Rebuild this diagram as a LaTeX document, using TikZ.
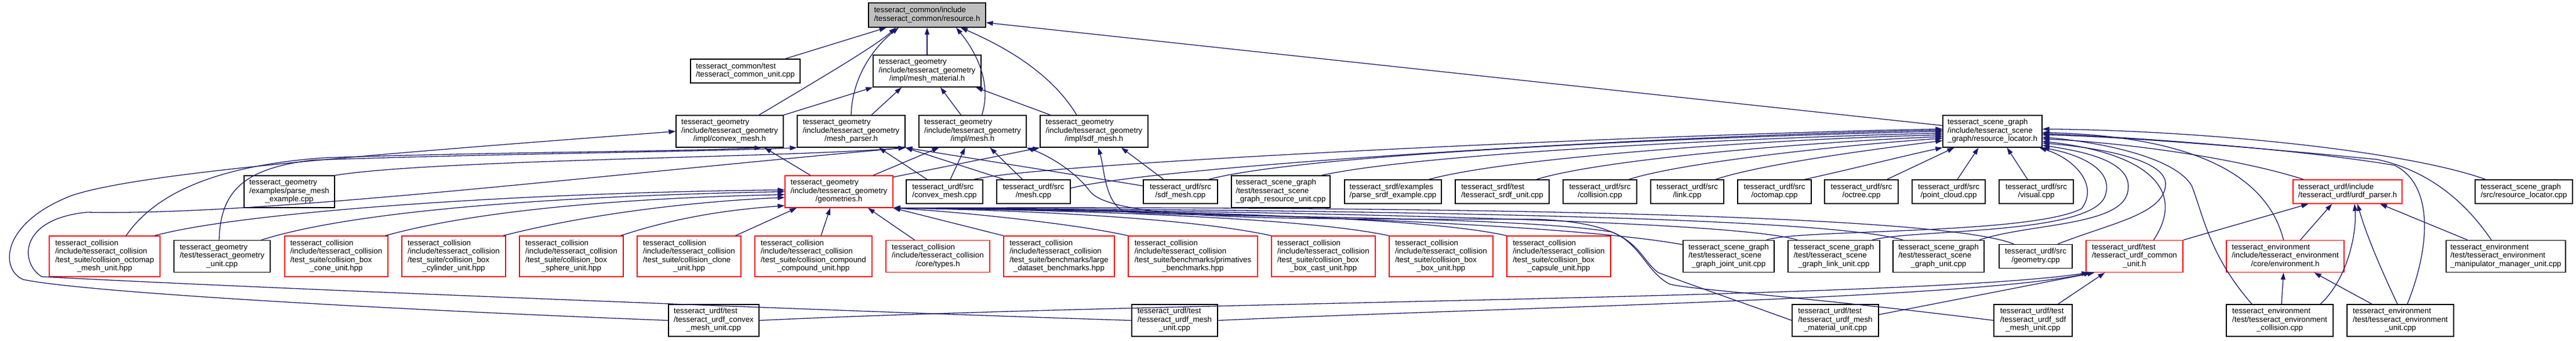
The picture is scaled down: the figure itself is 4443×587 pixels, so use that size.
\documentclass[tikz,border=0pt]{standalone}
\usepackage{fontspec}
\setmainfont{Liberation Sans}
\usepackage[HTML]{xcolor}
\usepackage{tikz}
\usetikzlibrary{arrows.meta}
\definecolor{edgeblue}{HTML}{191970}
\definecolor{rootgray}{HTML}{BFBFBF}
% left lines, last line centred
\newcommand{\flab}[2]{\begin{tabular}{@{}l@{}}#1\\\multicolumn{1}{@{}c@{}}{#2}\end{tabular}}
\tikzset{
  file/.style 2 args={draw=black, fill=white, line width=1.3pt, minimum width=#1pt, minimum height=#2pt},
  trunc/.style 2 args={file={#1}{#2}, draw=red},
  root/.style 2 args={file={#1}{#2}, fill=rootgray},
  dep/.style={draw=edgeblue, line width=1.3pt, -{Triangle[length=12pt, width=8pt]}}
}

\begin{document}
\begin{tikzpicture}[x=1pt, y=-1pt,
  every node/.style={font=\fontsize{13.33}{14.5}\selectfont, inner sep=0pt}]
\fill[white] (0,0) rectangle (4443,587);
\useasboundingbox (0,0) rectangle (4443,587);

% Define the nodes
\node[root={202}{42}] (R) at (1599,26) {\flab{tesseract\_common/include}{/tesseract\_common/resource.h}};

\node[file={189}{41}] (A) at (1285.5,122.5) {\flab{tesseract\_common/test}{/tesseract\_common\_unit.cpp}};
\node[file={186}{55}] (MM) at (1599,122.5) {\flab{tesseract\_geometry\\/include/tesseract\_geometry}{/impl/mesh\_material.h}};

\node[file={185}{55}] (CM) at (1258.5,226.5) {\flab{tesseract\_geometry\\/include/tesseract\_geometry}{/impl/convex\_mesh.h}};
\node[file={186}{55}] (MP) at (1468,226.5) {\flab{tesseract\_geometry\\/include/tesseract\_geometry}{/mesh\_parser.h}};
\node[file={185}{55}] (ME) at (1677.5,226.5) {\flab{tesseract\_geometry\\/include/tesseract\_geometry}{/impl/mesh.h}};
\node[file={186}{55}] (SM) at (1887,226.5) {\flab{tesseract\_geometry\\/include/tesseract\_geometry}{/impl/sdf\_mesh.h}};
\node[file={171}{55}] (RL) at (3436.5,226.5) {\flab{tesseract\_scene\_graph\\/include/tesseract\_scene}{\_graph/resource\_locator.h}};

\node[file={156}{55}] (PME) at (499,330.5) {\flab{tesseract\_geometry\\/examples/parse\_mesh}{\_example.cpp}};
\node[trunc={186}{55}] (G) at (1447,330.5) {\flab{tesseract\_geometry\\/include/tesseract\_geometry}{/geometries.h}};
\node[file={132}{41}] (UCMc) at (1629,330.5) {\flab{tesseract\_urdf/src}{/convex\_mesh.cpp}};
\node[file={127}{41}] (UMc) at (1782.5,330.5) {\flab{tesseract\_urdf/src}{/mesh.cpp}};
\node[file={128}{41}] (USMc) at (2036,330.5) {\flab{tesseract\_urdf/src}{/sdf\_mesh.cpp}};
\node[file={170}{55}] (SGR) at (2209,330.5) {\flab{tesseract\_scene\_graph\\/test/tesseract\_scene}{\_graph\_resource\_unit.cpp}};
\node[file={167}{41}] (PSE) at (2402.5,330.5) {\flab{tesseract\_srdf/examples}{/parse\_srdf\_example.cpp}};
\node[file={162}{41}] (SRU) at (2591,330.5) {\flab{tesseract\_srdf/test}{/tesseract\_srdf\_unit.cpp}};
\node[file={127}{41}] (COL) at (2759.5,330.5) {\flab{tesseract\_urdf/src}{/collision.cpp}};
\node[file={126}{41}] (LNK) at (2910,330.5) {\flab{tesseract\_urdf/src}{/link.cpp}};
\node[file={127}{41}] (OCM) at (3060.5,330.5) {\flab{tesseract\_urdf/src}{/octomap.cpp}};
\node[file={127}{41}] (OCT) at (3210.5,330.5) {\flab{tesseract\_urdf/src}{/octree.cpp}};
\node[file={126}{41}] (PCL) at (3361,330.5) {\flab{tesseract\_urdf/src}{/point\_cloud.cpp}};
\node[file={128}{41}] (VIS) at (3512,330.5) {\flab{tesseract\_urdf/src}{/visual.cpp}};
\node[trunc={188}{41}] (UP) at (4049,330.5) {\flab{tesseract\_urdf/include}{/tesseract\_urdf/urdf\_parser.h}};
\node[file={168}{41}] (SRL) at (4353,330.5) {\flab{tesseract\_scene\_graph}{/src/resource\_locator.cpp}};

\node[trunc={191}{70}] (C1) at (180.5,442) {\flab{tesseract\_collision\\/include/tesseract\_collision\\/test\_suite/collision\_octomap}{\_mesh\_unit.hpp}};
\node[file={166}{55}] (GT) at (383,442) {\flab{tesseract\_geometry\\/test/tesseract\_geometry}{\_unit.cpp}};
\node[trunc={178}{70}] (C2) at (580,442) {\flab{tesseract\_collision\\/include/tesseract\_collision\\/test\_suite/collision\_box}{\_cone\_unit.hpp}};
\node[trunc={179}{70}] (C3) at (782.5,442) {\flab{tesseract\_collision\\/include/tesseract\_collision\\/test\_suite/collision\_box}{\_cylinder\_unit.hpp}};
\node[trunc={179}{70}] (C4) at (985.5,442) {\flab{tesseract\_collision\\/include/tesseract\_collision\\/test\_suite/collision\_box}{\_sphere\_unit.hpp}};
\node[trunc={179}{70}] (C5) at (1188.5,442) {\flab{tesseract\_collision\\/include/tesseract\_collision\\/test\_suite/collision\_clone}{\_unit.hpp}};
\node[trunc={202}{70}] (C6) at (1403,442) {\flab{tesseract\_collision\\/include/tesseract\_collision\\/test\_suite/collision\_compound}{\_compound\_unit.hpp}};
\node[trunc={179}{55}] (C7) at (1617.5,442) {\flab{tesseract\_collision\\/include/tesseract\_collision}{/core/types.h}};
\node[trunc={191}{70}] (C8) at (1826.5,442) {\flab{tesseract\_collision\\/include/tesseract\_collision\\/test\_suite/benchmarks/large}{\_dataset\_benchmarks.hpp}};
\node[trunc={223}{70}] (C9) at (2057.5,442) {\flab{tesseract\_collision\\/include/tesseract\_collision\\/test\_suite/benchmarks/primatives}{\_benchmarks.hpp}};
\node[trunc={179}{70}] (C10) at (2282.5,442) {\flab{tesseract\_collision\\/include/tesseract\_collision\\/test\_suite/collision\_box}{\_box\_cast\_unit.hpp}};
\node[trunc={179}{70}] (C11) at (2485.5,442) {\flab{tesseract\_collision\\/include/tesseract\_collision\\/test\_suite/collision\_box}{\_box\_unit.hpp}};
\node[trunc={179}{70}] (C12) at (2688.5,442) {\flab{tesseract\_collision\\/include/tesseract\_collision\\/test\_suite/collision\_box}{\_capsule\_unit.hpp}};
\node[file={157}{55}] (SJ) at (2981.5,442) {\flab{tesseract\_scene\_graph\\/test/tesseract\_scene}{\_graph\_joint\_unit.cpp}};
\node[file={158}{55}] (SLU) at (3163,442) {\flab{tesseract\_scene\_graph\\/test/tesseract\_scene}{\_graph\_link\_unit.cpp}};
\node[file={157}{55}] (SGU) at (3343.5,442) {\flab{tesseract\_scene\_graph\\/test/tesseract\_scene}{\_graph\_unit.cpp}};
\node[file={126}{41}] (GEO) at (3511,442) {\flab{tesseract\_urdf/src}{/geometry.cpp}};
\node[trunc={167}{55}] (UCU) at (3681.5,442) {\flab{tesseract\_urdf/test\\/tesseract\_urdf\_common}{\_unit.h}};
\node[trunc={203}{55}] (ENV) at (3941.5,442) {\flab{tesseract\_environment\\/include/tesseract\_environment}{/core/environment.h}};
\node[file={206}{55}] (MMU) at (4322,442) {\flab{tesseract\_environment\\/test/tesseract\_environment}{\_manipulator\_manager\_unit.cpp}};

\node[file={156}{55}] (UCMU) at (1231,552.5) {\flab{tesseract\_urdf/test\\/tesseract\_urdf\_convex}{\_mesh\_unit.cpp}};
\node[file={148}{55}] (UMU) at (2026,552.5) {\flab{tesseract\_urdf/test\\/tesseract\_urdf\_mesh}{\_unit.cpp}};
\node[file={149}{55}] (UMMU) at (3165.5,552.5) {\flab{tesseract\_urdf/test\\/tesseract\_urdf\_mesh}{\_material\_unit.cpp}};
\node[file={135}{55}] (USMU) at (3506.5,552.5) {\flab{tesseract\_urdf/test\\/tesseract\_urdf\_sdf}{\_mesh\_unit.cpp}};
\node[file={184}{55}] (ENC) at (3932,552.5) {\flab{tesseract\_environment\\/test/tesseract\_environment}{\_collision.cpp}};
\node[file={184}{55}] (ENU) at (4140,552.5) {\flab{tesseract\_environment\\/test/tesseract\_environment}{\_unit.cpp}};

% Draw the includes
% into resource.h
\draw[dep] (A) -- (R);
\draw[dep] ([xshift=50.5pt]CM.north) .. controls (1390,150) and (1510,80) .. ([xshift=-54pt]R.south);
\draw[dep] (MP.north) .. controls (1470,125) and (1515,75) .. ([xshift=-49pt]R.south);
\draw[dep] (MM) -- (R);
\draw[dep] ([xshift=16pt]ME.north) .. controls (1712,140) and (1680,85) .. ([xshift=50pt]R.south);
\draw[dep] ([xshift=-30pt]SM.north) .. controls (1810,120) and (1720,75) .. ([xshift=58pt]R.south);
\draw[dep] ([yshift=10pt]RL.west) -- ([yshift=-13pt]R.east);

% into mesh_material.h
\draw[dep] (CM.north east) -- (MM.south west);
\draw[dep] ([xshift=35pt]MP.north) -- ([xshift=-44pt]MM.south);
\draw[dep] ([xshift=-20pt]ME.north) -- ([xshift=23pt]MM.south);
\draw[dep] ([xshift=-75pt]SM.north) -- ([xshift=84pt]MM.south);

% geometries.h into the meshes
\draw[dep] ([xshift=-49pt]G.north) -- ([xshift=60pt]CM.south);
\draw[dep] ([xshift=59pt]G.north) -- ([xshift=-58pt]ME.south);
\draw[dep] ([yshift=-3pt]G.north east) -- (SM.south west);

% urdf sources into the meshes
\draw[dep] ([xshift=-30pt]UCMc.north) -- ([xshift=48pt]MP.south);
\draw[dep] ([xshift=10pt]UCMc.north) -- ([xshift=-13pt]ME.south);
\draw[dep] ([xshift=-51pt]UMc.north) -- (MP.south east);
\draw[dep] ([xshift=-19pt]UMc.north) -- ([xshift=30pt]ME.south);
\draw[dep] ([yshift=10pt]USMc.west) -- (MP.south east);
\draw[dep] ([xshift=-29pt]USMc.north) -- ([xshift=47pt]SM.south);

% from the left into mesh_parser.h and convex_mesh.h
\draw[dep] ([xshift=37pt]C1.north) .. controls (270,330) and (380,285) .. (560,272) .. controls (850,262) and (1150,262) .. ([xshift=55pt]CM.south);
\draw[dep] ([xshift=-5pt]GT.north) .. controls (380,330) and (420,290) .. (540,276) .. controls (850,265) and (1200,262) .. (MP.south west);
\draw[dep] (PME.north east) .. controls (750,275) and (1350,272) .. (MP.south east);
\draw[dep] (UMU.west) .. controls (1400,535) and (400,495) .. (72,477) .. controls (35,455) and (30,378) .. (150,366) .. controls (450,372) and (1000,305) .. (MP.south east);
\draw[dep] (UCMU.west) .. controls (700,535) and (150,505) .. (40,482) .. controls (0,465) and (0,385) .. (124,337) .. controls (250,295) and (700,262) .. (CM.west);

% collision headers into geometries.h
\draw[dep] ([xshift=-10pt]C1.north east) .. controls (420,365) and (900,332) .. ([yshift=3pt]G.west);
\draw[dep] ([xshift=-16pt]GT.north east) .. controls (620,360) and (1000,337) .. (G.west);
\draw[dep] ([xshift=-5pt]C2.north east) .. controls (850,355) and (1150,340) .. ([yshift=-5pt]G.west);
\draw[dep] ([xshift=-5pt]C3.north east) .. controls (1050,360) and (1250,345) .. ([yshift=-10pt]G.west);
\draw[dep] ([xshift=-5pt]C4.north east) .. controls (1180,370) and (1280,360) .. ([yshift=4pt]G.south west);
\draw[dep] ([xshift=80pt]C5.north) -- ([xshift=-73pt]G.south);
\draw[dep] ([xshift=13pt]C6.north) -- ([xshift=-15pt]G.south);
\draw[dep] ([xshift=-40pt]C7.north) -- ([xshift=50pt]G.south);
\draw[dep] (C8.north west) -- (G.south east);
\draw[dep] (C9.north west) .. controls (1850,385) and (1650,365) .. (G.south east);
\draw[dep] (C10.north west) .. controls (2050,375) and (1750,362) .. (G.south east);
\draw[dep] (C11.north west) .. controls (2250,375) and (1850,362) .. (G.south east);
\draw[dep] (C12.north west) .. controls (2450,372) and (1950,362) .. (G.south east);
\draw[dep] ([yshift=-8pt]SJ.north west) .. controls (2700,385) and (2100,365) .. (G.south east);
\draw[dep] ([xshift=17pt]SLU.north west) .. controls (3000,382) and (2300,365) .. (G.south east);
\draw[dep] ([xshift=18pt]SGU.north west) .. controls (3150,375) and (2400,362) .. (G.south east);
\draw[dep] ([xshift=26pt]GEO.north west) .. controls (3350,370) and (2500,355) .. (G.south east);

% row of sources into resource_locator.h
\draw[dep] ([xshift=-16pt]UCMc.north east) .. controls (1800,280) and (2900,230) .. ([yshift=4pt]RL.west);
\draw[dep] ([yshift=6pt]UMc.east) .. controls (2000,285) and (2900,232) .. ([yshift=2pt]RL.west);
\draw[dep] ([xshift=-16pt]USMc.north east) .. controls (2250,265) and (2950,235) .. (RL.west);
\draw[dep] ([xshift=70pt]SGR.north) .. controls (2450,265) and (3000,238) .. ([yshift=-3pt]RL.west);
\draw[dep] ([xshift=62pt]PSE.north) .. controls (2600,272) and (3050,240) .. ([yshift=-6pt]RL.west);
\draw[dep] ([xshift=59pt]SRU.north) .. controls (2760,275) and (3120,245) .. ([yshift=-9pt]RL.west);
\draw[dep] ([xshift=50pt]COL.north) .. controls (2900,280) and (3180,250) .. ([yshift=-12pt]RL.west);
\draw[dep] ([xshift=49pt]LNK.north) .. controls (3040,282) and (3250,255) .. ([yshift=-16pt]RL.west);
\draw[dep] ([xshift=52pt]OCM.north) .. controls (3200,290) and (3300,265) .. (RL.south west);
\draw[dep] ([xshift=44pt]OCT.north) -- ([xshift=-66pt]RL.south);
\draw[dep] ([xshift=15pt]PCL.north) -- ([xshift=-24pt]RL.south);
\draw[dep] ([xshift=-15pt]VIS.north) -- ([xshift=25pt]RL.south);

% loops round to the right of resource_locator.h
\draw[dep] ([xshift=65pt]SJ.north) .. controls (3100,395) and (3500,405) .. (3590,360) .. controls (3620,320) and (3580,275) .. ([xshift=-5pt]RL.south east);
\draw[dep] ([xshift=66pt]SLU.north) .. controls (3300,395) and (3600,405) .. (3630,340) .. controls (3650,290) and (3580,265) .. (RL.south east);
\draw[dep] ([xshift=70pt]SGU.north) .. controls (3500,385) and (3660,390) .. (3670,330) .. controls (3680,280) and (3600,262) .. ([yshift=-24pt]RL.east);
\draw[dep] ([xshift=38pt]GEO.north) .. controls (3640,385) and (3730,370) .. (3735,320) .. controls (3740,275) and (3620,255) .. ([yshift=-20pt]RL.east);
\draw[dep] ([xshift=33pt]UCU.north) .. controls (3770,330) and (3710,265) .. ([yshift=-17pt]RL.east);
\draw[dep] ([xshift=-76pt]UP.north) .. controls (3850,270) and (3650,245) .. ([yshift=-13pt]RL.east);
\draw[dep] ([xshift=-48pt]ENC.north) .. controls (3810,440) and (3800,370) .. (3780,320) .. controls (3750,270) and (3620,245) .. ([yshift=-10pt]RL.east);
\draw[dep] ([xshift=-3pt]ENV.north) .. controls (3910,300) and (3780,235) .. ([yshift=-2pt]RL.east);
\draw[dep] ([xshift=-25pt]MMU.north) .. controls (4240,330) and (4170,290) .. (4100,275) .. controls (3900,255) and (3650,235) .. ([yshift=-6pt]RL.east);
\draw[dep] ([xshift=12pt]ENU.north) .. controls (4190,430) and (4200,320) .. (4130,285) .. controls (3950,255) and (3650,235) .. ([yshift=-4pt]RL.east);
\draw[dep] ([xshift=-66pt]SRL.north) .. controls (4150,260) and (3800,225) .. ([yshift=4pt]RL.east);

% into urdf_parser.h and environment.h
\draw[dep] (UCU.north east) -- ([xshift=27pt]UP.south west);
\draw[dep] ([xshift=26pt]ENV.north) -- ([xshift=-27pt]UP.south);
\draw[dep] ([xshift=-66pt]MMU.north) -- ([xshift=56pt]UP.south);
\draw[dep] ([xshift=70pt]ENC.north) .. controls (4050,480) and (4065,400) .. ([xshift=12pt]UP.south);
\draw[dep] ([xshift=-5pt]ENU.north) .. controls (4100,450) and (4080,400) .. ([xshift=17pt]UP.south);
\draw[dep] ([xshift=3pt]ENC.north) -- ([xshift=-3pt]ENV.south);
\draw[dep] ([xshift=-49pt]ENU.north) -- ([xshift=50pt]ENV.south);

% urdf tests into the common test header
\draw[dep] (UCMU.east) .. controls (2000,520) and (3300,515) .. ([xshift=5pt]UCU.south west);
\draw[dep] (UMU.east) .. controls (2600,530) and (3400,515) .. ([xshift=9pt]UCU.south west);
\draw[dep] ([yshift=10pt]UMMU.east) -- ([xshift=15pt]UCU.south west);
\draw[dep] ([xshift=43pt]USMU.north) -- ([xshift=33pt]UCU.south west);

% long curves back to mesh.h and sdf_mesh.h
\draw[dep] (UMMU.west) .. controls (3000,520) and (2900,485) .. (2860,470) .. controls (2820,440) and (2830,385) .. (2650,378) .. controls (2200,378) and (1920,380) .. (1880,330) .. controls (1850,290) and (1800,265) .. (ME.south east);
\draw[dep] (USMU.west) .. controls (3100,510) and (2920,500) .. (2880,490) .. controls (2840,470) and (2830,420) .. (2780,400) .. controls (2600,370) and (2000,375) .. (1940,365) .. controls (1905,350) and (1905,290) .. ([xshift=7pt]SM.south);
\end{tikzpicture}
\end{document}
